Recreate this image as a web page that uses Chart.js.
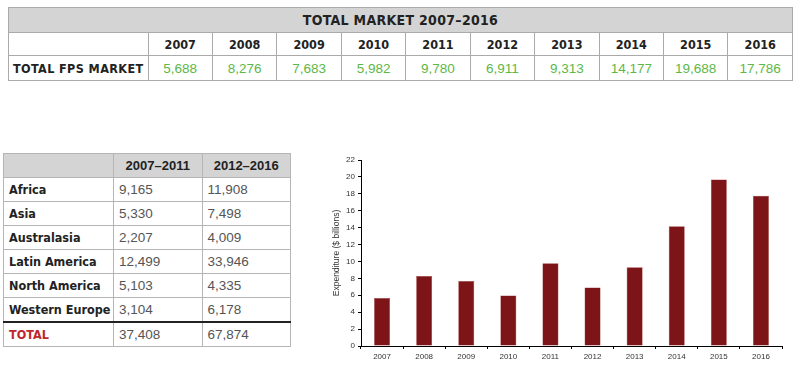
<!DOCTYPE html>
<html>
<head>
<meta charset="utf-8">
<script src="https://cdn.jsdelivr.net/npm/chart.js@4"></script>
<style>
  html, body { margin: 0; padding: 0; background: #fff; }
  body { width: 800px; height: 377px; position: relative; overflow: hidden;
         font-family: "DejaVu Sans", sans-serif; font-stretch: condensed; }
  table { border-collapse: collapse; position: absolute; table-layout: fixed; }
  td, th { white-space: nowrap; }
  #topTable { left: 8px; top: 7px; width: 785px; }
  #topTable td { border: 1px solid #aaa; text-align: center; padding: 0; }
  #topTable .title { background: #d4d4d4; height: 24px; font-size: 14px; font-weight: bold;
                     color: #222; letter-spacing: 0.3px; }
  #topTable .yr { height: 22px; font-size: 12.5px; font-weight: bold; color: #222; }
  #topTable .lbl { font-size: 12.5px; font-weight: bold; color: #222; width: 139px; letter-spacing: 0.4px; }
  #topTable .val { height: 24px; font-size: 13.5px; color: #5cb847; font-stretch: normal;
                   font-family: "Liberation Sans", Arial, sans-serif; }
  #regionTable { left: 3px; top: 153px; width: 288px; }
  #regionTable td, #regionTable th { border: 1px solid #b5b5b5; padding: 0 5px; height: 23px; }
  #regionTable th { background: #d4d4d4; font-size: 13px; font-weight: bold; color: #222; text-align: center;
                    font-family: "Liberation Sans", Arial, sans-serif; font-stretch: normal; }
  #regionTable td.name { font-size: 12.5px; font-weight: bold; color: #222; width: 99px; }
  #regionTable td.num { font-family: "Liberation Sans", Arial, sans-serif; font-stretch: normal;
                        font-size: 13.5px; color: #555; width: 78px; }
  #regionTable tr.total td { border-top: 2px solid #222; }
  #regionTable td.red { color: #c0272d; }
  #chartBox { position: absolute; left: 320px; top: 150px; width: 470px; height: 227px; }
</style>
</head>
<body>
<table id="topTable"></table>
<table id="regionTable"></table>
<div id="chartBox"><canvas id="chart"></canvas></div>
<script>
// Data
const years = ['2007', '2008', '2009', '2010', '2011', '2012', '2013', '2014', '2015', '2016'];
const fpsMarket = [5688, 8276, 7683, 5982, 9780, 6911, 9313, 14177, 19688, 17786]; // $ millions
const regions = ['Africa', 'Asia', 'Australasia', 'Latin America', 'North America', 'Western Europe'];
const periods = ['2007–2011', '2012–2016'];
const firstPeriod = [9165, 5330, 2207, 12499, 5103, 3104];
const secondPeriod = [11908, 7498, 4009, 33946, 4335, 6178];
const totals = [37408, 67874];
const yTicks = [0, 2, 4, 6, 8, 10, 12, 14, 16, 18, 20, 22];

const fmt = n => n.toLocaleString('en-US');

// Top table
const topTable = document.getElementById('topTable');
topTable.innerHTML = `
  <tr><td class="lbl" style="border-right:none;background:#d4d4d4"></td><td class="title" style="border-left:none" colspan="${years.length}"><span style="margin-left:-139px">TOTAL MARKET 2007–2016</span></td></tr>
  <tr><td class="lbl"></td>${years.map(y => `<td class="yr">${y}</td>`).join('')}</tr>
  <tr><td class="lbl">TOTAL FPS MARKET</td>${fpsMarket.map(v => `<td class="val">${fmt(v)}</td>`).join('')}</tr>
`;

// Region table
const regionTable = document.getElementById('regionTable');
regionTable.innerHTML = `
  <tr><th style="width:99px"></th>${periods.map(p => `<th>${p}</th>`).join('')}</tr>
  ${regions.map((r, i) => `<tr><td class="name">${r}</td><td class="num">${fmt(firstPeriod[i])}</td><td class="num">${fmt(secondPeriod[i])}</td></tr>`).join('')}
  <tr class="total"><td class="name red">TOTAL</td>${totals.map(t => `<td class="num">${fmt(t)}</td>`).join('')}</tr>
`;

// Bar chart
new Chart(document.getElementById('chart').getContext('2d'), {
    type: 'bar',
    data: {
        labels: years,
        datasets: [{
            label: 'Expenditure',
            data: fpsMarket.map(v => v / 1000),
            backgroundColor: '#7d1417',
            borderColor: '#a0393b',
            borderWidth: { left: 0.5, right: 0.5, top: 0.5, bottom: 0 },
            barPercentage: 0.76,
            categoryPercentage: 0.5
        }]
    },
    options: {
        responsive: true,
        maintainAspectRatio: false,
        animation: false,
        layout: { padding: { top: 10, right: 8, left: 0, bottom: 0 } },
        plugins: {
            legend: { display: false },
            tooltip: { enabled: false }
        },
        scales: {
            x: {
                grid: { display: true, drawOnChartArea: false, tickLength: 3, color: '#000', offset: true },
                border: { display: true, color: '#000', width: 1 },
                ticks: { color: '#333', font: { family: 'Arial, Liberation Sans', size: 8 }, padding: 3, maxRotation: 0 },
                afterFit: scale => { scale.height = 31; }
            },
            y: {
                min: 0,
                max: 22,
                afterBuildTicks: scale => { scale.ticks = yTicks.map(v => ({ value: v })); },
                grid: { display: true, drawOnChartArea: false, tickLength: 3, color: '#000' },
                border: { display: true, color: '#000', width: 1 },
                ticks: { color: '#333', font: { family: 'Arial, Liberation Sans', size: 8 }, padding: 3 },
                title: {
                    display: true,
                    text: 'Expenditure ($ billions)',
                    color: '#333',
                    font: { family: 'Arial, Liberation Sans', size: 8.5 },
                    padding: { top: 12, bottom: 0 }
                },
                afterFit: scale => { scale.width = 41; }
            }
        }
    }
});
</script>
</body>
</html>
